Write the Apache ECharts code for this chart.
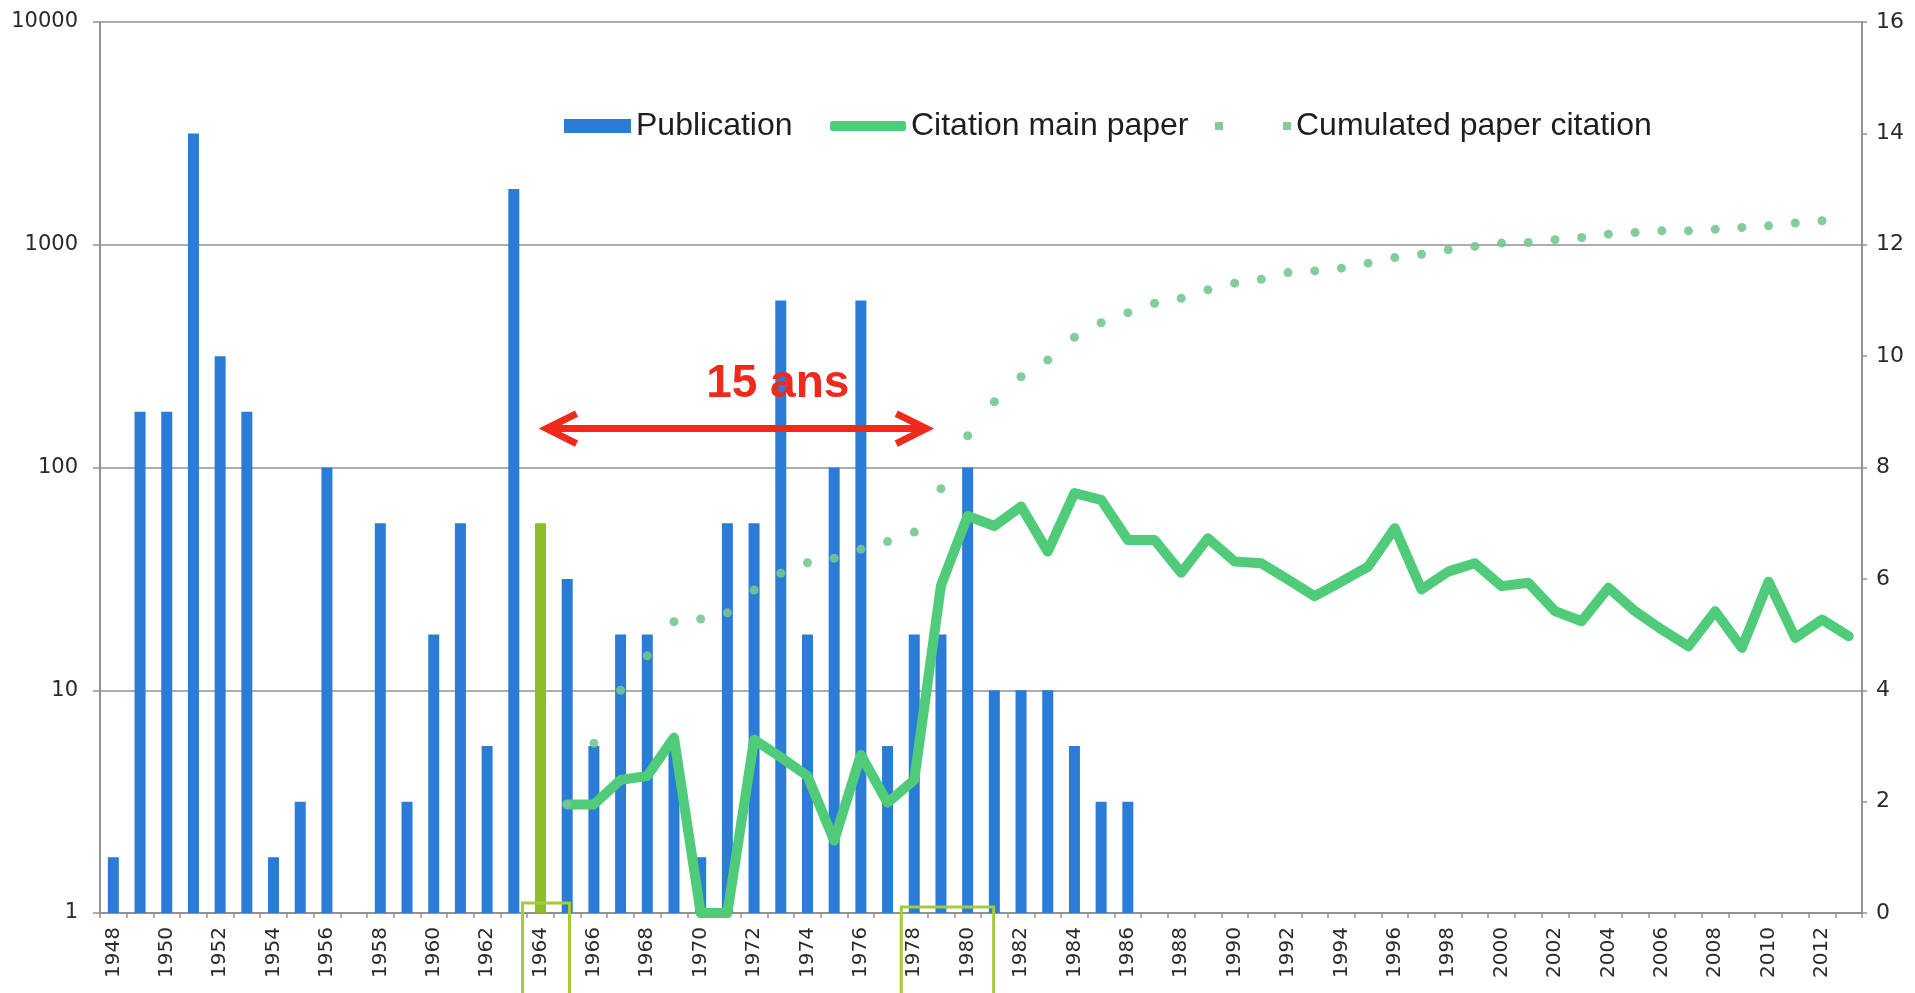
<!DOCTYPE html>
<html>
<head>
<meta charset="utf-8">
<script src="https://cdn.jsdelivr.net/npm/echarts@6/dist/echarts.min.js"></script>
<style>
  html, body { margin: 0; padding: 0; background: #ffffff; }
  #chart { width: 1915px; height: 993px; }
</style>
</head>
<body>
<div id="chart"></div>
<script>
// Years on the category axis
const years = [];
for (let y = 1948; y <= 2013; y++) years.push(String(y));

// Publications per year (log scale, left axis); null = no bar
const publication = [
  1.78, 178, 178, 3162, 316, 178, 1.78, 3.16, 100, null,   // 1948-1957
  56.2, 3.16, 17.8, 56.2, 5.62, 1778, 56.2, 31.6, 5.62, 17.8, // 1958-1967
  17.8, 5.62, 1.78, 56.2, 56.2, 562, 17.8, 100, 562, 5.62,   // 1968-1977
  17.8, 17.8, 100, 10, 10, 10, 5.62, 3.16, 3.16, null,       // 1978-1987
  null, null, null, null, null, null, null, null, null, null, // 1988-1997
  null, null, null, null, null, null, null, null, null, null, // 1998-2007
  null, null, null, null, null, null                          // 2008-2013
];

// Yearly citations of the main paper (right axis)
const citationMain = [
  null, null, null, null, null, null, null, null, null, null, // 1948-1957
  null, null, null, null, null, null, null, 1.95, 1.95, 2.39, // 1958-1967
  2.46, 3.15, 0, 0, 3.11, 2.80, 2.46, 1.30, 2.84, 1.98,       // 1968-1977
  2.39, 5.88, 7.13, 6.95, 7.30, 6.49, 7.54, 7.42, 6.70, 6.70, // 1978-1987
  6.11, 6.73, 6.31, 6.28, 5.99, 5.69, 5.95, 6.22, 6.91, 5.81, // 1988-1997
  6.13, 6.28, 5.87, 5.93, 5.42, 5.24, 5.84, 5.42, 5.09, 4.79, // 1998-2007
  5.42, 4.76, 5.95, 4.94, 5.27, 4.97                          // 2008-2013
];

// Cumulated citations (right axis)
const cumulated = [
  null, null, null, null, null, null, null, null, null, null,      // 1948-1957
  null, null, null, null, null, null, null, 1.95, 3.05, 4.00,      // 1958-1967
  4.62, 5.23, 5.28, 5.39, 5.80, 6.10, 6.29, 6.37, 6.53, 6.67,      // 1968-1977
  6.84, 7.62, 8.57, 9.18, 9.63, 9.93, 10.34, 10.60, 10.78, 10.95,  // 1978-1987
  11.04, 11.19, 11.31, 11.38, 11.50, 11.53, 11.58, 11.67, 11.77, 11.83, // 1988-1997
  11.91, 11.97, 12.03, 12.04, 12.09, 12.13, 12.19, 12.22, 12.25, 12.25, // 1998-2007
  12.28, 12.31, 12.34, 12.39, 12.43, null                          // 2008-2013
];

// Annotated years
const highlightYear = '1964';
const spanStart = '1964';
const spanEnd = '1978';
const spanBoxEnd = '1980';
const spanLabel = '15 ans';

const BLUE = '#2b7cd6';
const LIME = '#8cbf26';
const GREEN = '#4fcb7a';
const DOT = '#74c796';
const RED = '#ef2a1c';
const BOX = '#a6cb3a';
const GRID = '#929292';

const chart = echarts.init(document.getElementById('chart'), null, { renderer: 'canvas' });

const barData = publication.map((v, i) =>
  years[i] === highlightYear ? { value: v, itemStyle: { color: LIME } } : v
);

const legendText = { fontFamily: '"Liberation Sans", Arial, sans-serif', fontSize: 32, color: '#1e1e1e' };
const tickFont = '"DejaVu Sans", Verdana, sans-serif';

chart.setOption({
  animation: false,
  backgroundColor: '#ffffff',
  grid: { left: 100, right: 53, top: 22, bottom: 80, containLabel: false },
  legend: [
    { left: 564, top: 110, padding: 0, itemWidth: 67, itemHeight: 14, icon: 'rect',
      data: ['Publication'], textStyle: legendText, selectedMode: false },
    { left: 830, top: 110, padding: 0, itemWidth: 76, itemHeight: 10, icon: 'roundRect',
      data: ['Citation main paper'], textStyle: legendText, selectedMode: false },
    { left: 1215, top: 110, padding: 0, itemWidth: 76, itemHeight: 8,
      icon: 'path://M0,0h8v8h-8z M68,0h8v8h-8z',
      data: ['Cumulated paper citation'], textStyle: legendText, selectedMode: false }
  ],
  xAxis: {
    type: 'category',
    data: years,
    boundaryGap: true,
    axisLine: { show: true, lineStyle: { color: GRID, width: 2 } },
    axisTick: { show: true, interval: 0, length: 5, lineStyle: { color: GRID, width: 1.5 } },
    axisLabel: {
      interval: 1, rotate: 90, margin: 14,
      fontFamily: tickFont, fontSize: 20, color: '#2a2a2a'
    },
    splitLine: { show: false }
  },
  yAxis: [
    {
      type: 'log', logBase: 10, min: 1, max: 10000,
      axisLine: { show: true, lineStyle: { color: GRID, width: 2 } },
      axisTick: { show: true, length: 7, lineStyle: { color: GRID, width: 1.5 } },
      axisLabel: {
        margin: 22, fontFamily: tickFont, fontSize: 21, color: '#2a2a2a',
        formatter: (v) => String(Math.round(v))
      },
      splitLine: { show: true, lineStyle: { color: GRID, width: 1.5 } }
    },
    {
      type: 'value', min: 0, max: 16, interval: 2, position: 'right',
      axisLine: { show: true, lineStyle: { color: GRID, width: 2 } },
      axisTick: { show: true, length: 5, lineStyle: { color: GRID, width: 1.5 } },
      axisLabel: {
        margin: 14, fontFamily: tickFont, fontSize: 22, color: '#2a2a2a'
      },
      splitLine: { show: false }
    }
  ],
  series: [
    {
      name: 'Publication', type: 'bar', yAxisIndex: 0, barWidth: 11,
      itemStyle: { color: BLUE },
      data: barData, z: 2
    },
    {
      name: 'Citation main paper', type: 'line', yAxisIndex: 1,
      data: citationMain, symbol: 'none', showSymbol: false, smooth: false,
      itemStyle: { color: GREEN },
      lineStyle: { color: GREEN, width: 10, join: 'round', cap: 'round' },
      z: 3
    },
    {
      name: 'Cumulated paper citation', type: 'line', yAxisIndex: 1,
      data: cumulated, symbol: 'circle', symbolSize: 9, showSymbol: true, showAllSymbol: true,
      itemStyle: { color: DOT, opacity: 0.9 },
      lineStyle: { width: 0, opacity: 0 },
      z: 4
    }
  ]
});

// Annotations placed from axis coordinates
function px(year, value) {
  return chart.convertToPixel({ xAxisIndex: 0, yAxisIndex: 1 }, [year, value]);
}
const axisY = px(spanStart, 0)[1];
const xStart = px(spanStart, 0)[0];
const xEnd = px(spanEnd, 0)[0];
const xBoxEnd = px(spanBoxEnd, 0)[0];
const arrowY = px(spanStart, 8.7)[1];
const labelPos = px('1973', 9.49);

const tipL = xStart + 6;
const tipR = xEnd + 12;
const headLen = 30, headHalf = 15, arrowW = 7;

chart.setOption({
  graphic: [
    { type: 'line', z: 100, shape: { x1: tipL + 4, y1: arrowY, x2: tipR - 4, y2: arrowY },
      style: { stroke: RED, lineWidth: arrowW } },
    { type: 'polyline', z: 100,
      shape: { points: [[tipL + headLen, arrowY - headHalf], [tipL, arrowY], [tipL + headLen, arrowY + headHalf]] },
      style: { stroke: RED, lineWidth: arrowW, fill: null, lineJoin: 'miter' } },
    { type: 'polyline', z: 100,
      shape: { points: [[tipR - headLen, arrowY - headHalf], [tipR, arrowY], [tipR - headLen, arrowY + headHalf]] },
      style: { stroke: RED, lineWidth: arrowW, fill: null, lineJoin: 'miter' } },
    { type: 'text', z: 101,
      style: { text: spanLabel, x: labelPos[0] - 3, y: labelPos[1],
        font: 'bold 46px "Liberation Sans", Arial, sans-serif', fill: RED,
        align: 'center', verticalAlign: 'middle' } },
    { type: 'rect', z: 100,
      shape: { x: xStart - 18, y: axisY - 10, width: 47, height: 120 },
      style: { stroke: BOX, lineWidth: 3, fill: null } },
    { type: 'rect', z: 100,
      shape: { x: xEnd - 13, y: axisY - 6, width: (xBoxEnd + 26) - (xEnd - 13), height: 120 },
      style: { stroke: BOX, lineWidth: 3, fill: null } }
  ]
});
</script>
</body>
</html>
